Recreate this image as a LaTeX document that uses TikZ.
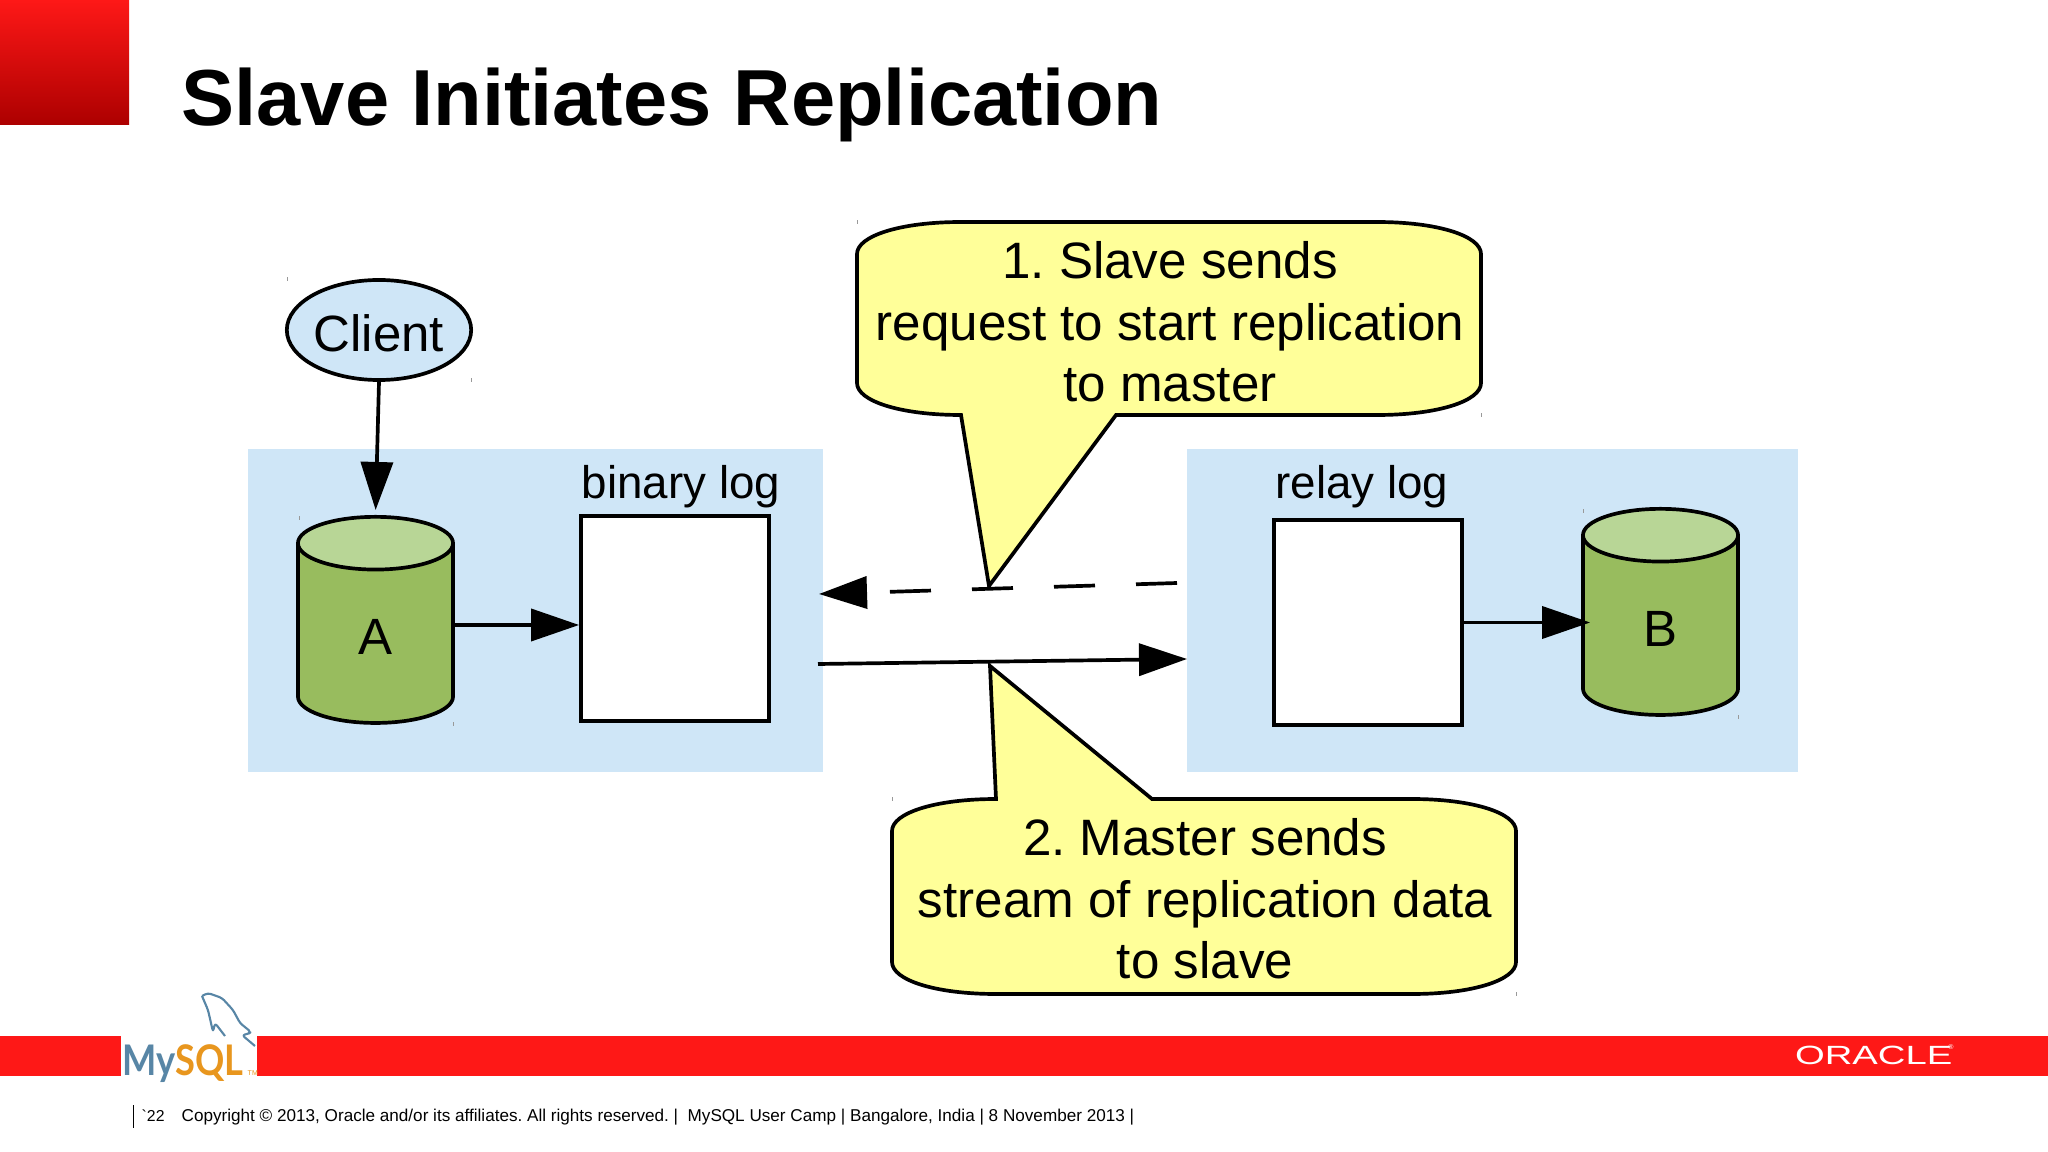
\documentclass[tikz,border=0pt]{standalone}
\usepackage{fontspec}
\setmainfont{Liberation Sans}
\newfontfamily\logofont{Lato}
\usetikzlibrary{
    arrows.meta,
    positioning,
    shapes.geometric
}
\definecolor{slidered}{RGB}{254,24,23}
\definecolor{darkred}{RGB}{172,0,0}
\definecolor{panelblue}{RGB}{207,230,247}
\definecolor{noteyellow}{RGB}{255,255,153}
\definecolor{dbgreen}{RGB}{152,188,94}
\definecolor{dbtop}{RGB}{184,214,150}
\definecolor{logoblue}{RGB}{88,134,166}
\definecolor{logoorange}{RGB}{232,150,30}
\tikzset{
    % Box styles
    panel box/.style={
        fill=panelblue,
        rectangle,
        inner sep=0pt,
        minimum height=3.23cm
    },
    log box/.style={
        draw=black,
        fill=white,
        line width=1.05pt,
        rectangle,
        inner sep=0pt,
        minimum width=1.88cm,
        minimum height=2.05cm
    },
    db node/.style={
        draw=black,
        line width=1.05pt,
        cylinder,
        shape border rotate=90,
        aspect=1.55,
        cylinder uses custom fill,
        cylinder body fill=dbgreen,
        cylinder end fill=dbtop,
        inner sep=0pt,
        minimum width=1.55cm,
        minimum height=2.06cm,
        text height=0.41cm,
        font=\fontsize{14.5}{17.5}\selectfont
    },
    % Text styles
    label text/.style={
        inner sep=0pt,
        font=\fontsize{13}{15}\selectfont
    },
    note text/.style={
        inner sep=0pt,
        align=center,
        font=\fontsize{14.55}{17.5}\selectfont\frenchspacing
    },
    note shape/.style={
        draw=black,
        fill=noteyellow,
        line width=1.05pt,
        line join=miter
    },
    % Arrow styles
    flow arrow/.style={
        -{Triangle[length=4.8mm,width=3.2mm]},
        line width=1.05pt,
        black
    }
}
\begin{document}
\begin{tikzpicture}[x=0.01cm, y=-0.01cm]
    \useasboundingbox (0,0) rectangle (2048,1152);
    \fill[white] (0,0) rectangle (2048,1152);

    % Slide frame
    \shade[top color=slidered, bottom color=darkred] (0,0) rectangle (129,125);
    \fill[slidered] (0,1036) rectangle (121,1076);
    \fill[slidered] (257,1036) rectangle (2048,1076);
    \node[anchor=base west, inner sep=0pt, font=\fontsize{22.6}{26}\selectfont\bfseries] (title) at (181,126) {Slave Initiates Replication};

    % Panels
    \node[panel box, minimum width=5.75cm] (master) at (535.5,610.5) {};
    \node[panel box, minimum width=6.11cm] (slave) at (1492.5,610.5) {};

    % Master side
    \node[draw=black, fill=panelblue, line width=1.05pt, ellipse, inner sep=0pt, minimum width=1.84cm, minimum height=1.0cm, text height=0.43cm, font=\fontsize{14.5}{17.5}\selectfont] (client) at (379,330) {Client};
    \node[db node] (dba) at (375.5,634) {A};
    \node[log box] (binlog) at (675,618.5) {};
    \node[label text] (binlabel) at (681,487) {binary log};
    \draw[flow arrow, shorten >=0.05cm] (client.south) -- (dba.north);
    \draw[flow arrow] ([yshift=0.09cm]dba.east) -- ([yshift=0.09cm]dba.east -| binlog.west);

    % Slave side
    \node[log box] (relay) at (1368,622.5) {};
    \node[db node] (dbb) at (1660.5,626) {B};
    \node[label text] (relaylabel) at (1362,487) {relay log};
    \draw[flow arrow, shorten >=-0.09cm] (relay.east) -- (relay.east -| dbb.west);

    % Between the panels
    \coordinate (reqstart) at (1177,583);
    \coordinate (reqend) at (819,594);
    \coordinate (datastart) at (818,664);
    \coordinate (dataend) at (1187,659);
    \draw[flow arrow, dash pattern=on 0.41cm off 0.41cm] (reqstart) -- (reqend);
    \draw[flow arrow] (datastart) -- (dataend);

    % Note 1
    \draw[note shape] (857,254) .. controls (857,236) and (900,222) .. (961,222) -- (1377,222)
        .. controls (1438,222) and (1481,236) .. (1481,254) -- (1481,383)
        .. controls (1481,401) and (1438,415) .. (1377,415) -- (1116,415) -- (989,586) -- (961,415)
        .. controls (900,415) and (857,401) .. (857,383) -- cycle;
    \node[note text] (note1) at (1170,322) {1. Slave sends\\request to start replication\\to master};

    % Note 2
    \draw[note shape] (892,831) .. controls (892,813) and (935,799) .. (996,799) -- (990,666) -- (1152,799) -- (1412,799)
        .. controls (1473,799) and (1516,813) .. (1516,831) -- (1516,962)
        .. controls (1516,980) and (1473,994) .. (1412,994) -- (996,994)
        .. controls (935,994) and (892,980) .. (892,962) -- cycle;
    \node[note text] (note2) at (1205,899) {2. Master sends\\stream of replication data\\to slave};

    % Specks
    \foreach \x/\y in {287/279,471/380,299/518,453/724,857/222,1481/415,892/799,1516/994,1583/511,1738/717} {
        \fill[black!40] (\x,\y-2) rectangle (\x+1,\y+2);
    }

    % Logos
    \node[anchor=base west, inner sep=0pt, xscale=0.86, transform shape, font=\fontsize{12}{14}\selectfont\logofont\bfseries] (mysql) at (122,1075) {\textcolor{logoblue}{My}\textcolor{logoorange}{SQL}};
    \node[anchor=base west, inner sep=0pt, font=\fontsize{2}{2}\selectfont, logoorange] (tm) at (247,1075) {TM};
    \draw[logoblue, line width=0.6pt, line join=round, rounded corners=0.03cm] (202,996) -- (208,993) -- (222,998) -- (233,1010) -- (240,1023) -- (251,1032) -- (248,1034) -- (242,1035) -- (255,1046);
    \draw[logoblue, line width=0.6pt, line join=round, rounded corners=0.03cm] (202,996) -- (208,1010) -- (211,1023) -- (213,1032) -- (215,1023) -- (225,1036);
    \node[anchor=west, inner sep=0pt, white, xscale=1.45, transform shape, font=\fontsize{7.5}{9}\selectfont] (oracle) at (1794,1055.5) {ORACLE};
    \node[inner sep=0pt, white, font=\fontsize{2}{2}\selectfont] (oraclereg) at (1951,1047) {®};

    % Footer
    \draw[black, line width=0.4pt] (133.5,1105) -- (133.5,1128);
    \node[anchor=base west, inner sep=0pt, font=\fontsize{4.5}{6}\selectfont] (page) at (141,1121) {\textasciigrave 22};
    \node[anchor=base west, inner sep=0pt, font=\fontsize{4.87}{6}\selectfont\frenchspacing] (footer) at (181,1121) {Copyright © 2013, Oracle and/or its affiliates. All rights reserved. |\ \ MySQL User Camp | Bangalore, India | 8 November 2013 |};
\end{tikzpicture}
\end{document}
